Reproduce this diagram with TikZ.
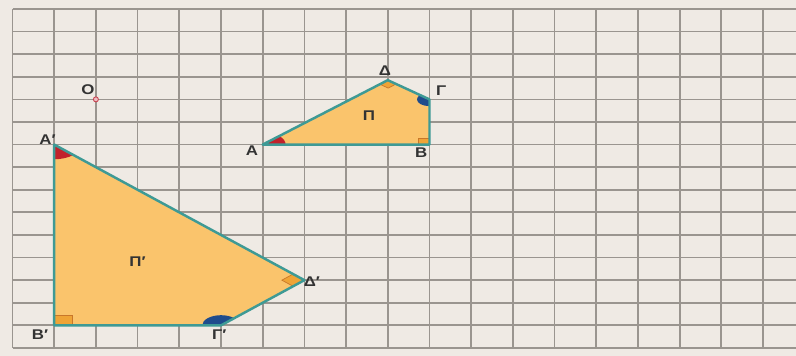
\documentclass[tikz,border=0pt]{standalone}
\usepackage{fontspec}
\setmainfont[FakeStretch=1.2]{Liberation Sans}
\usetikzlibrary{calc}

\definecolor{paper}{HTML}{EFEAE4}
\definecolor{gridgray}{HTML}{9A958F}
\definecolor{shapefill}{HTML}{FAC46C}
\definecolor{shapeedge}{HTML}{3E9A95}
\definecolor{anglered}{HTML}{C1222C}
\definecolor{angleblue}{HTML}{1F4C8C}
\definecolor{markorange}{HTML}{EFA436}
\definecolor{markline}{HTML}{C8772A}
\definecolor{pointred}{HTML}{C8404E}

\tikzset{
  gridline/.style={draw=gridgray, line width=1pt},
  quad/.style={draw=shapeedge, line width=1.4pt, line join=round},
  quadfill/.style={fill=shapefill},
  redangle/.style={fill=anglered},
  blueangle/.style={fill=angleblue},
  rightmark/.style={fill=markorange, draw=markline, line width=0.4pt},
  lbl/.style={font=\fontsize{8}{9}\selectfont\bfseries, text=black!80, inner sep=0pt},
}

\begin{document}
\begin{tikzpicture}[x=0.834cm, y=0.452cm]

  % Paper and grid
  \useasboundingbox (-0.30,-0.354) rectangle (18.79,15.398);
  \fill[paper] (-0.30,-0.354) rectangle (18.79,15.398);
  \draw[gridline, step={(1,1)}] (0,0) grid (18.79,15);

  % Vertices
  \coordinate (A) at (6,9);
  \coordinate (B) at (10,9);
  \coordinate (G) at (10,11);
  \coordinate (D) at (9,11.85);
  \coordinate (A1) at (1,9);
  \coordinate (B1) at (1,1);
  \coordinate (G1) at (5,1);
  \coordinate (D1) at (7,3);

  % Shapes
  \fill[quadfill] (A) -- (B) -- (G) -- (D) -- cycle;
  \fill[quadfill] (A1) -- (B1) -- (G1) -- (D1) -- cycle;

  % Angle marks
  \fill[redangle] (A) -- ++(0.55,0) arc[start angle=0, end angle=44, radius=0.55] -- cycle;
  \fill[redangle] (A1) -- ++(0,-0.65) arc[start angle=-90, end angle=-45, radius=0.65] -- cycle;
  \fill[blueangle] (G) -- ++(0,-0.3) arc[start angle=270, end angle=140, radius=0.3] -- cycle;
  \fill[blueangle] (G1) -- ++(-0.45,0) arc[start angle=180, end angle=45, radius=0.45] -- cycle;
  \filldraw[rightmark] (B) rectangle ++(-0.27,0.27);
  \filldraw[rightmark] (B1) rectangle ++(0.44,0.44);
  \filldraw[rightmark] (D) -- ++(0.2,-0.17) -- ++(-0.19,-0.18) -- ++(-0.2,0.17) -- cycle;
  \filldraw[rightmark] (D1) -- ++(-0.27,-0.27) -- ++(-0.27,0.27) -- ++(0.27,0.27) -- cycle;

  % Edges
  \draw[quad] (A) -- (B) -- (G) -- (D) -- cycle;
  \draw[quad] (A1) -- (B1) -- (G1) -- (D1) -- cycle;

  % Centre point
  \node[circle, inner sep=0pt, minimum size=0.1cm, draw=pointred, line width=0.5pt, fill=pointred!35] (O) at (2,11) {};

  % Labels
  \node[lbl] (lO) at (1.81,11.42) {O};
  \node[lbl] (lA) at (5.74,8.72) {A};
  \node[lbl] (lB) at (9.8,8.63) {B};
  \node[lbl] (lG) at (10.28,11.37) {Γ};
  \node[lbl] (lD) at (8.93,12.26) {Δ};
  \node[lbl] (lP) at (8.55,10.27) {Π};
  \node[lbl] (lA1) at (0.84,9.2) {A′};
  \node[lbl] (lB1) at (0.66,0.58) {B′};
  \node[lbl] (lG1) at (4.96,0.58) {Γ′};
  \node[lbl] (lD1) at (7.18,2.92) {Δ′};
  \node[lbl] (lP1) at (3.0,3.8) {Π′};

\end{tikzpicture}
\end{document}
